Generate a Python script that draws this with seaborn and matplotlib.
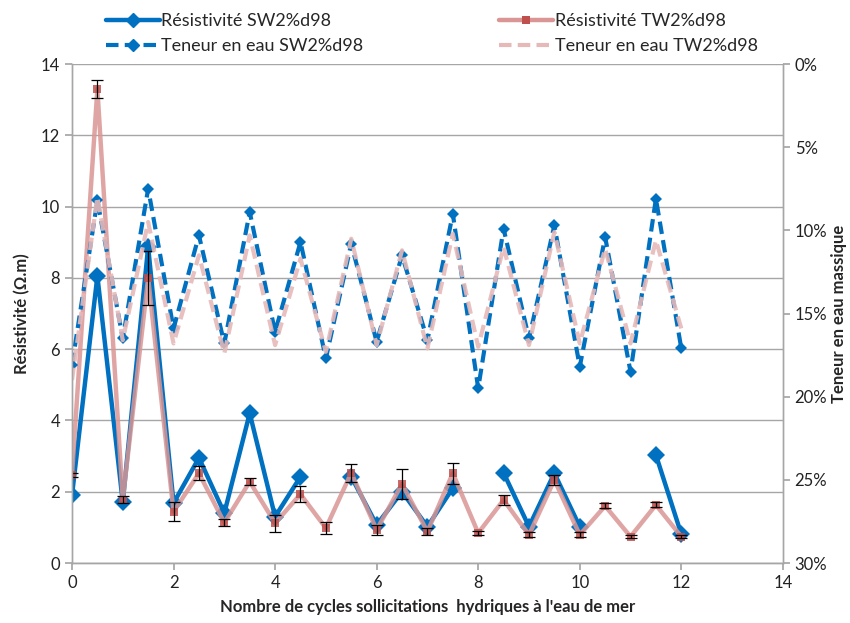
import numpy as np
import pandas as pd
import matplotlib
matplotlib.use("Agg")
import matplotlib.pyplot as plt
import seaborn as sns
from matplotlib.lines import Line2D
from matplotlib.ticker import PercentFormatter

# cycles (x axis)
cycles = [0, 0.5, 1, 1.5, 2, 2.5, 3, 3.5, 4, 4.5, 5, 5.5, 6, 6.5, 7, 7.5,
          8, 8.5, 9, 9.5, 10, 10.5, 11, 11.5, 12]

# resistivity (Ohm.m)
res_sw = [1.9, 8.05, 1.71, 8.87, 1.68, 2.95, 1.4, 4.2, 1.3, 2.42, np.nan, 2.42, 1.07,
          2.0, 1.02, 2.1, np.nan, 2.53, 1.02, 2.52, 1.02, np.nan, np.nan, 3.03, 0.81]
res_tw = [2.47, 13.3, 1.77, 8.0, 1.44, 2.52, 1.13, 2.28, 1.12, 1.93, 0.98, 2.53, 0.93,
          2.22, 0.88, 2.52, 0.84, 1.77, 0.79, 2.33, 0.79, 1.6, 0.74, 1.63, 0.74]
err_tw = [0.05, 0.25, 0.1, 0.75, 0.27, 0.2, 0.1, 0.1, 0.24, 0.22, 0.17, 0.25, 0.15,
          0.42, 0.1, 0.3, 0.05, 0.13, 0.07, 0.15, 0.07, 0.07, 0.05, 0.07, 0.05]

# water content (%)
water_sw = [18.1, 8.2, 16.5, 7.5, 15.9, 10.3, 16.8, 8.9, 16.1, 10.7, 17.7, 10.8, 16.7,
            11.5, 16.6, 9.0, 19.5, 9.9, 16.5, 9.7, 18.2, 10.4, 18.5, 8.1, 17.1]
water_tw = [19.0, 8.0, 16.6, 9.5, 16.8, 11.5, 17.4, 10.3, 16.9, 11.7, 17.3, 10.5, 16.9,
            11.2, 17.1, 10.2, 17.0, 11.0, 16.9, 10.1, 16.8, 11.1, 16.8, 10.6, 15.9]

BLUE = "#0070C0"
RED_LINE = "#D99694"
RED_MARK = "#C0504D"
PINK = "#E6B9B8"
GRID = "#A6A6A6"

sns.set_theme(style="white")
plt.rcParams["font.family"] = ["Lato", "DejaVu Sans"]

df = pd.DataFrame({"cycle": cycles, "res_sw": res_sw, "res_tw": res_tw,
                   "err_tw": err_tw,
                   "water_sw": np.array(water_sw) / 100,
                   "water_tw": np.array(water_tw) / 100})
# segment id so gaps (NaN) are not bridged
df["seg_sw"] = df["res_sw"].isna().cumsum()

fig = plt.figure(figsize=(8.5, 6.23), dpi=100)
ax = fig.add_axes([0.0847, 0.0963, 0.8363, 0.8009])
ax2 = ax.twinx()

sw = df.dropna(subset=["res_sw"])
sns.lineplot(data=sw, x="cycle", y="res_sw", units="seg_sw", estimator=None,
             color=BLUE, lw=3.2, marker="D", markersize=9, markeredgewidth=0,
             ax=ax, legend=False, zorder=3)
sns.lineplot(data=df, x="cycle", y="res_tw", color=RED_LINE, lw=3.2, marker="s",
             markersize=6, markerfacecolor=RED_MARK, markeredgewidth=0,
             alpha=0.85, ax=ax, legend=False, zorder=4)
ax.errorbar(df["cycle"], df["res_tw"], yerr=df["err_tw"], fmt="none",
            ecolor="black", elinewidth=0.9, capsize=4, capthick=0.9, zorder=5)

sns.lineplot(data=df, x="cycle", y="water_sw", color=BLUE, lw=3, ls=(0, (3, 1.5)),
             marker="D", markersize=6, markeredgewidth=0, ax=ax2, legend=False)
sns.lineplot(data=df, x="cycle", y="water_tw", color=PINK, lw=3, ls=(0, (3, 1.5)),
             ax=ax2, legend=False, alpha=0.9)

ax.set_xlim(0, 14)
ax.set_ylim(0, 14)
ax.set_xticks(range(0, 15, 2))
ax.set_yticks(range(0, 15, 2))
ax2.set_ylim(0.30, 0)
ax2.set_yticks(np.arange(0, 0.31, 0.05))
ax2.yaxis.set_major_formatter(PercentFormatter(1.0, decimals=0))

ax.yaxis.grid(True, color=GRID, lw=1)
ax.set_axisbelow(True)
for a in (ax, ax2):
    a.spines["top"].set_visible(False)
    for s in ("left", "right", "bottom"):
        a.spines[s].set_color(GRID)
        a.spines[s].set_linewidth(1)
    a.tick_params(axis="both", colors=GRID, labelcolor="#222222", labelsize=12,
                  length=5, direction="out")
ax.tick_params(left=True, bottom=True)
ax2.tick_params(right=True)

ax.set_xlabel("Nombre de cycles sollicitations  hydriques à l'eau de mer",
              fontsize=12, fontweight="bold", labelpad=6)
ax.set_ylabel("Résistivité (Ω.m)", fontsize=12, fontweight="bold", labelpad=8)
ax2.set_ylabel("Teneur en eau massique", fontsize=12, fontweight="bold",
               labelpad=3)

handles = [
    Line2D([], [], color=BLUE, lw=3.2, marker="D", markersize=7),
    Line2D([], [], color=BLUE, lw=3, ls=(0, (3, 1.5)), marker="D", markersize=6),
    Line2D([], [], color=RED_LINE, lw=3.2, marker="s", markersize=6,
           markerfacecolor=RED_MARK, markeredgewidth=0),
    Line2D([], [], color=PINK, lw=3, ls=(0, (3, 1.5))),
]
labels = ["Résistivité SW2%d98", "Teneur en eau SW2%d98",
          "Résistivité TW2%d98", "Teneur en eau TW2%d98"]
fig.legend(handles, labels, ncol=2, loc="upper left", bbox_to_anchor=(0.105, 1.005),
           frameon=False, fontsize=13, handlelength=3, handletextpad=0.1,
           columnspacing=7.5, labelspacing=0.5)

fig.savefig("out.png", dpi=100)
